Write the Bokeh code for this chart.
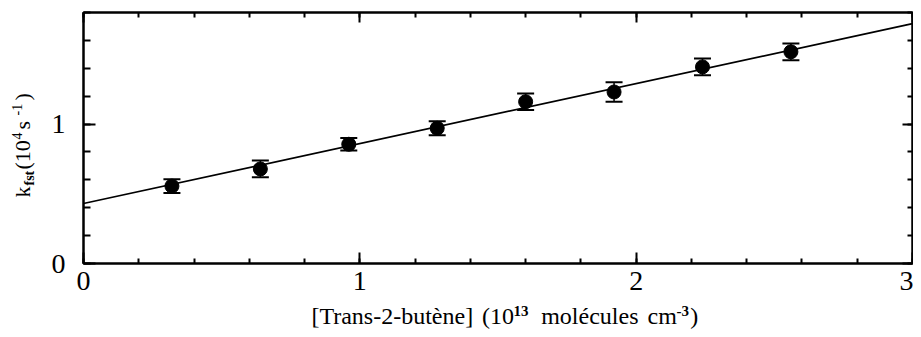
from bokeh.plotting import figure
from bokeh.layouts import row, column
from bokeh.models import (Range1d, LinearAxis, Label, Whisker, TeeHead, ColumnDataSource,
                          FixedTicker, CustomJSTickFormatter)
from bokeh.embed import file_html
from bokeh.resources import INLINE
import math

# ---- data ----
conc = [0.32, 0.64, 0.96, 1.28, 1.60, 1.92, 2.24, 2.56]   # 10^13 molecules cm^-3
kfst = [0.555, 0.678, 0.855, 0.970, 1.160, 1.230, 1.410, 1.518]  # 10^4 s^-1
kerr = [0.05, 0.06, 0.045, 0.05, 0.06, 0.07, 0.06, 0.06]
fit_intercept = 0.43
fit_slope = 0.43
x_major = [0, 1, 2, 3]
x_minor = [round(i * 0.2, 1) for i in range(16)]
y_major = [0, 1]
y_minor = [round(i * 0.2, 1) for i in range(10)]
x_lim = [0, 3]
y_lim = [0, 1.8]

FONT = "Liberation Serif"

# page layout (pixels)
W, H = 913, 329
YLAB_W = 45           # strip holding the y title
MAIN_H = 303          # main plot height; x title strip below it
FL, FT, FR, FB = 83, 12, 912, 263   # frame edges in page pixels
BASE_SHIFT = 0.34     # label anchor offset (fraction of font size) to land the baseline

# ---------------- main plot ----------------
p = figure(width=W - YLAB_W, height=MAIN_H, output_backend="svg", toolbar_location=None,
           x_range=Range1d(*x_lim), y_range=Range1d(*y_lim),
           min_border_left=FL - YLAB_W, min_border_right=W - FR, min_border_top=FT,
           min_border_bottom=MAIN_H - FB)
p.background_fill_color = "white"
p.border_fill_color = "white"
p.grid.visible = False
p.outline_line_color = "black"
p.outline_line_width = 2

def base_style(ax, major_in, minor_in):
    ax.axis_line_color = "black"; ax.axis_line_width = 2
    ax.major_tick_in = major_in; ax.major_tick_out = 0
    ax.minor_tick_in = minor_in; ax.minor_tick_out = 0
    ax.major_tick_line_width = 2; ax.minor_tick_line_width = 2
    ax.major_tick_line_color = "black"; ax.minor_tick_line_color = "black"

xb = p.xaxis[0]
xb.ticker = FixedTicker(ticks=x_major, minor_ticks=x_minor)
yl = p.yaxis[0]
yl.ticker = FixedTicker(ticks=y_major, minor_ticks=y_minor)
for ax, mi, mn in [(xb, 11, 5), (yl, 12, 7)]:
    base_style(ax, mi, mn)
    ax.major_label_text_font = FONT
    ax.major_label_text_font_size = "28px"
    ax.major_label_text_color = "black"
xb.major_label_standoff = 8
yl.major_label_standoff = 18

blank = CustomJSTickFormatter(code="return ''")
xt = LinearAxis(ticker=FixedTicker(ticks=x_major, minor_ticks=x_minor), formatter=blank,
                major_label_standoff=0)
yr = LinearAxis(ticker=FixedTicker(ticks=y_major, minor_ticks=y_minor), formatter=blank,
                major_label_standoff=0)
base_style(xt, 10, 5)
base_style(yr, 10, 5)
p.add_layout(xt, "above")
p.add_layout(yr, "right")

# fit line
fit_x = list(x_lim)
fit_y = [fit_intercept + fit_slope * v for v in fit_x]
p.line(fit_x, fit_y, line_color="black", line_width=1.7)

# points with error bars
src = ColumnDataSource(dict(x=conc, y=kfst,
                            lo=[a - b for a, b in zip(kfst, kerr)],
                            hi=[a + b for a, b in zip(kfst, kerr)]))
w = Whisker(source=src, base="x", lower="lo", upper="hi", line_color="black", line_width=1.5,
            upper_head=TeeHead(size=17, line_width=2, line_color="black"),
            lower_head=TeeHead(size=17, line_width=2, line_color="black"))
p.add_layout(w)
p.scatter("x", "y", source=src, size=14, fill_color="black", line_color="black")

# ---------------- title strips (data units == page pixels) ----------------
def strip(width, height, xr, yr_):
    s = figure(width=width, height=height, output_backend="svg", toolbar_location=None,
               x_range=Range1d(*xr), y_range=Range1d(*yr_),
               x_axis_type=None, y_axis_type=None,
               min_border_left=0, min_border_right=0, min_border_top=0, min_border_bottom=0)
    s.grid.visible = False
    s.outline_line_color = None
    s.background_fill_color = "white"
    s.border_fill_color = "white"
    return s

ylab = strip(YLAB_W, H, (0, YLAB_W), (H, 0))
xlab = strip(W - YLAB_W, H - MAIN_H, (YLAB_W, W), (H, MAIN_H))

def run_h(fig, text, px, baseline, size, bold=False):
    fig.add_layout(Label(x=px, y=baseline - BASE_SHIFT * size, text=text,
                         text_font=FONT, text_font_size=f"{size}px",
                         text_color="black", text_align="left", text_baseline="alphabetic",
                         text_font_style="bold" if bold else "normal"))

def run_v(fig, text, baseline, py, size, bold=False):
    fig.add_layout(Label(x=baseline - BASE_SHIFT * size, y=py, text=text, angle=math.pi / 2,
                         text_font=FONT, text_font_size=f"{size}px",
                         text_color="black", text_align="left", text_baseline="alphabetic",
                         text_font_style="bold" if bold else "normal"))

# x title: runs laid out left to right with approximate Times advance widths
ADV = {'[': .333, ']': .333, '(': .333, ')': .333, '-': .333, 'T': .611, 'r': .333,
       'a': .444, 'n': .5, 's': .389, 'b': .5, 'u': .5, 't': .278, 'è': .444, 'e': .444,
       'm': .778, 'o': .5, 'l': .278, 'é': .444, 'c': .444, '1': .5, '0': .5, '2': .5, '3': .5}
XB, XS, XSUP = 324, 24, 15
x_runs = [("[Trans-2-butène]", XS, 0, False, 16),
          ("(10", XS, 0, False, 1),
          ("13", XSUP, 8, True, 14),
          ("molécules", XS, 0, False, 14),
          ("cm", XS, 0, False, 1),
          ("-3", XSUP, 8, True, 2),
          (")", XS, 0, False, 0)]
widths = [sum(ADV.get(ch, .5) for ch in t) * s + g for t, s, _, _, g in x_runs]
cx = 486
pos = cx - sum(widths) / 2
for (t, s, rise, bold, g), wd in zip(x_runs, widths):
    run_h(xlab, t, pos, XB - rise, s, bold=bold)
    pos += wd

# y title (rotated, reading upwards)
YB = 29
run_v(ylab, "k", YB, 197, 22)
run_v(ylab, "fst", YB + 5, 185, 14, bold=True)
run_v(ylab, "(10", YB, 169, 22)
run_v(ylab, "4", YB - 8, 139, 14)
run_v(ylab, "s", YB, 129, 22)
run_v(ylab, "-1", YB - 8, 115, 14)
run_v(ylab, ")", YB, 100, 22)

layout = row(ylab, column(p, xlab, spacing=0), spacing=0)
open("out.html", "w").write(file_html(layout, INLINE))
